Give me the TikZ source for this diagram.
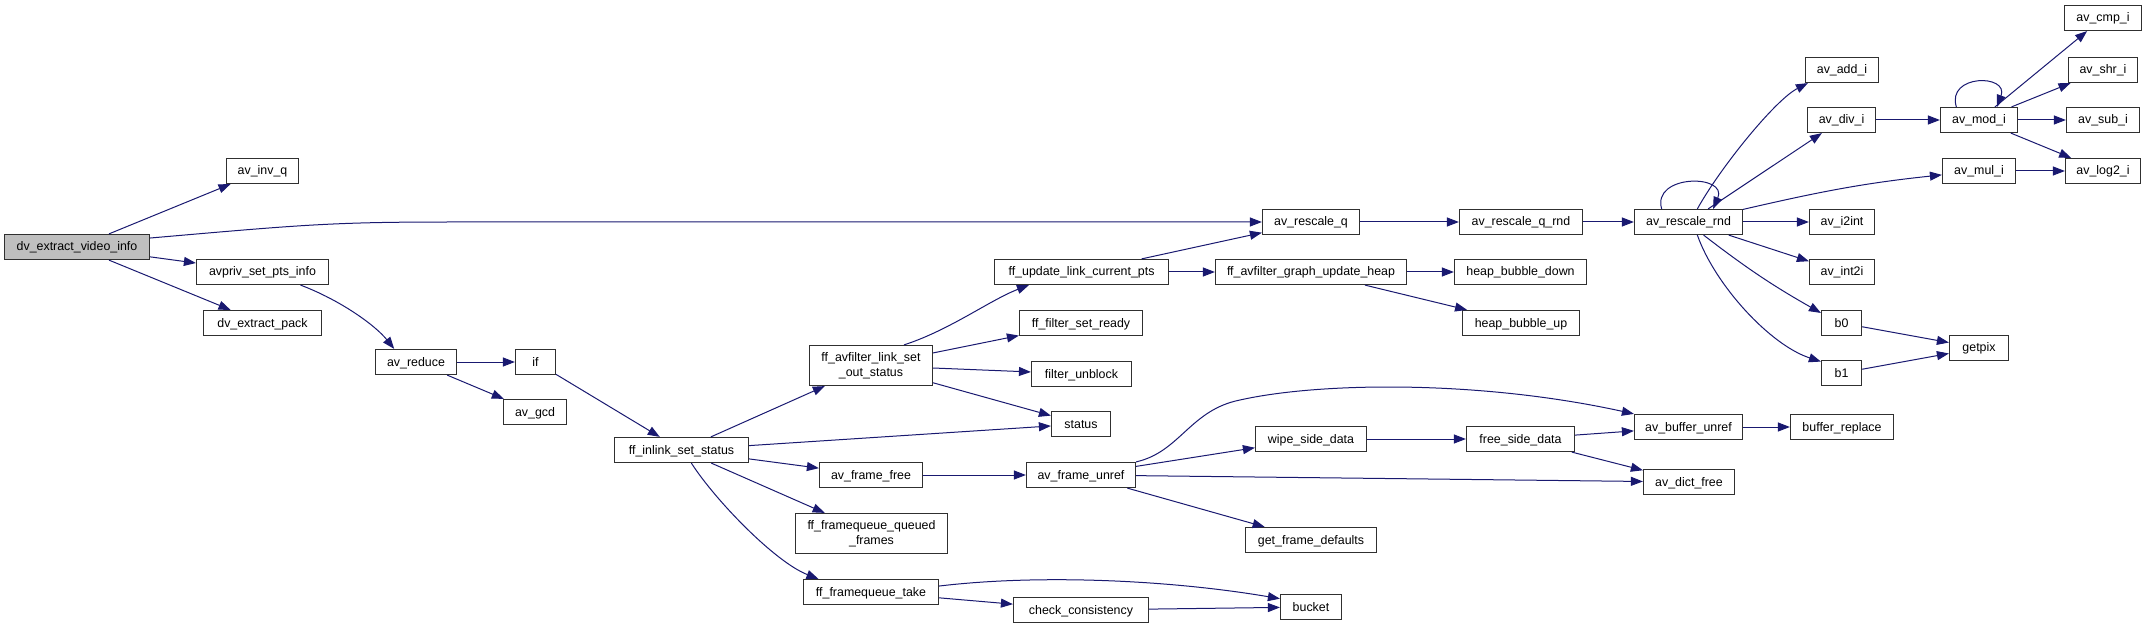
\documentclass[tikz,border=0pt]{standalone}
\usepackage{fontspec}
\setmainfont{Liberation Sans}
\usetikzlibrary{arrows.meta}
\definecolor{callblue}{RGB}{25,25,112}
\definecolor{boxgray}{RGB}{48,48,48}
\definecolor{rootgray}{RGB}{191,191,191}

\begin{document}
\begin{tikzpicture}[x=1pt, y=-1pt,
	fnode/.style={draw=boxgray, fill=white, line width=1.2pt, inner sep=0pt, minimum height=25pt, text height=10pt, text depth=2pt, font=\fontsize{12.4}{15}\selectfont},
	fnode2/.style={draw=boxgray, fill=white, line width=1.2pt, inner sep=0pt, minimum height=40pt, align=center, font=\fontsize{12.4}{15}\selectfont},
	call/.style={draw=callblue, line width=1pt, -{Triangle[length=12pt, width=9pt]}}]
	\useasboundingbox (0,0) rectangle (2147,628);
	% Nodes:
	\node[fnode, fill=rootgray, minimum width=145] (dvinfo) at (77, 247) {dv\_extract\_video\_info};
	\node[fnode, minimum width=72] (invq) at (262.5, 171) {av\_inv\_q};
	\node[fnode, minimum width=132] (ptsinfo) at (262.5, 272) {avpriv\_set\_pts\_info};
	\node[fnode, minimum width=118] (dvpack) at (262.5, 323) {dv\_extract\_pack};
	\node[fnode, minimum width=81] (reduce) at (416, 362) {av\_reduce};
	\node[fnode, minimum width=40] (iff) at (535.5, 362) {if};
	\node[fnode, minimum width=63] (gcd) at (535, 412) {av\_gcd};
	\node[fnode, minimum width=134] (inlink) at (681.5, 450) {ff\_inlink\_set\_status};
	\node[fnode2, minimum width=123] (outstatus) at (871, 365.5) {ff\_avfilter\_link\_set\\\_out\_status};
	\node[fnode, minimum width=103] (framefree) at (871, 475) {av\_frame\_free};
	\node[fnode2, minimum width=152] (queued) at (871.5, 533.5) {ff\_framequeue\_queued\\\_frames};
	\node[fnode, minimum width=135] (take) at (871, 592) {ff\_framequeue\_take};
	\node[fnode, minimum width=174] (curpts) at (1081.5, 272) {ff\_update\_link\_current\_pts};
	\node[fnode, minimum width=123] (setready) at (1081, 323) {ff\_filter\_set\_ready};
	\node[fnode, minimum width=100] (unblock) at (1081.5, 374) {filter\_unblock};
	\node[fnode, minimum width=59] (status) at (1081, 424) {status};
	\node[fnode, minimum width=109] (frameunref) at (1081, 475) {av\_frame\_unref};
	\node[fnode, minimum width=135] (consist) at (1081, 610) {check\_consistency};
	\node[fnode, minimum width=97] (rescaleq) at (1311, 222) {av\_rescale\_q};
	\node[fnode, minimum width=191] (updheap) at (1311, 272) {ff\_avfilter\_graph\_update\_heap};
	\node[fnode, minimum width=111] (wipe) at (1311, 439) {wipe\_side\_data};
	\node[fnode, minimum width=131] (defaults) at (1311, 540) {get\_frame\_defaults};
	\node[fnode, minimum width=61] (bucket) at (1311, 607) {bucket};
	\node[fnode, minimum width=123] (rescaleqrnd) at (1521, 222) {av\_rescale\_q\_rnd};
	\node[fnode, minimum width=132] (bubdown) at (1520.5, 272) {heap\_bubble\_down};
	\node[fnode, minimum width=117] (bubup) at (1521, 323) {heap\_bubble\_up};
	\node[fnode, minimum width=108] (freeside) at (1520.5, 439) {free\_side\_data};
	\node[fnode, minimum width=108] (rescalernd) at (1688.5, 222) {av\_rescale\_rnd};
	\node[fnode, minimum width=108] (bufunref) at (1688.5, 427) {av\_buffer\_unref};
	\node[fnode, minimum width=91] (dictfree) at (1689, 482) {av\_dict\_free};
	\node[fnode, minimum width=103] (bufreplace) at (1842, 427) {buffer\_replace};
	\node[fnode, minimum width=73] (addi) at (1842, 70) {av\_add\_i};
	\node[fnode, minimum width=68] (divi) at (1841.5, 120) {av\_div\_i};
	\node[fnode, minimum width=65] (itoint) at (1842, 222) {av\_i2int};
	\node[fnode, minimum width=65] (inttoi) at (1842, 272) {av\_int2i};
	\node[fnode, minimum width=40] (bzero) at (1841.5, 323) {b0};
	\node[fnode, minimum width=40] (bone) at (1841.5, 373) {b1};
	\node[fnode, minimum width=77] (modi) at (1979, 120) {av\_mod\_i};
	\node[fnode, minimum width=73] (muli) at (1979, 171) {av\_mul\_i};
	\node[fnode, minimum width=59] (getpix) at (1979, 348) {getpix};
	\node[fnode, minimum width=77] (cmpi) at (2103, 18) {av\_cmp\_i};
	\node[fnode, minimum width=69] (shri) at (2103, 70) {av\_shr\_i};
	\node[fnode, minimum width=73] (subi) at (2103, 120) {av\_sub\_i};
	\node[fnode, minimum width=75] (logi) at (2103, 171) {av\_log2\_i};
	% Calls:
	\draw[call] (dvinfo) -- (invq);
	\draw[call] (dvinfo.7) .. controls (300, 225) and (330, 222) .. (450, 222) -- (rescaleq);
	\draw[call] (dvinfo) -- (ptsinfo);
	\draw[call] (dvinfo) -- (dvpack);
	\draw[call] (ptsinfo.-19) .. controls (340, 300) and (375, 325) .. (reduce.149);
	\draw[call] (reduce) -- (iff);
	\draw[call] (reduce) -- (gcd);
	\draw[call] (iff) -- (inlink);
	\draw[call] (inlink) -- (outstatus);
	\draw[call] (inlink) -- (status);
	\draw[call] (inlink) -- (framefree);
	\draw[call] (inlink) -- (queued);
	\draw[call] (inlink.-53) .. controls (715, 500) and (775, 562) .. (take.166);
	\draw[call] (outstatus.32) .. controls (950, 330) and (990, 300) .. (curpts.-166);
	\draw[call] (outstatus) -- (setready);
	\draw[call] (outstatus) -- (unblock);
	\draw[call] (outstatus) -- (status);
	\draw[call] (framefree) -- (frameunref);
	\draw[call] (take.5) .. controls (1040, 574) and (1170, 580) .. (bucket.165);
	\draw[call] (take) -- (consist);
	\draw[call] (consist) -- (bucket);
	\draw[call] (curpts) -- (rescaleq);
	\draw[call] (curpts) -- (updheap);
	\draw[call] (updheap) -- (bubdown);
	\draw[call] (updheap) -- (bubup);
	\draw[call] (frameunref.north east) .. controls (1180, 452) and (1190, 410) .. (1240, 400)
		.. controls (1320, 382) and (1480, 380) .. (bufunref.north west);
	\draw[call] (frameunref) -- (wipe);
	\draw[call] (frameunref) -- (dictfree);
	\draw[call] (frameunref) -- (defaults);
	\draw[call] (wipe) -- (freeside);
	\draw[call] (freeside) -- (bufunref);
	\draw[call] (freeside) -- (dictfree);
	\draw[call] (bufunref) -- (bufreplace);
	\draw[call] (rescaleq) -- (rescaleqrnd);
	\draw[call] (rescaleqrnd) -- (rescalernd);
	\draw[call] (rescalernd.154) .. controls +(-10, -35) and +(15, -35) .. (rescalernd.28);
	\draw[call] (rescalernd.56) .. controls (1720, 168) and (1775, 100) .. (addi.-159);
	\draw[call] (rescalernd) -- (divi);
	\draw[call] (rescalernd) to[out=13, in=-174] (muli);
	\draw[call] (rescalernd) -- (itoint);
	\draw[call] (rescalernd) -- (inttoi);
	\draw[call] (rescalernd.-41) to[bend right=4] (bzero.154);
	\draw[call] (rescalernd.-56) .. controls (1715, 285) and (1770, 345) .. (bone.151);
	\draw[call] (divi) -- (modi);
	\draw[call] (modi.150) .. controls +(-10, -33) and +(12, -33) .. (modi.36);
	\draw[call] (modi) -- (cmpi);
	\draw[call] (modi) -- (shri);
	\draw[call] (modi) -- (subi);
	\draw[call] (modi) -- (logi);
	\draw[call] (muli) -- (logi);
	\draw[call] (bzero) -- (getpix);
	\draw[call] (bone) -- (getpix);
\end{tikzpicture}
\end{document}
